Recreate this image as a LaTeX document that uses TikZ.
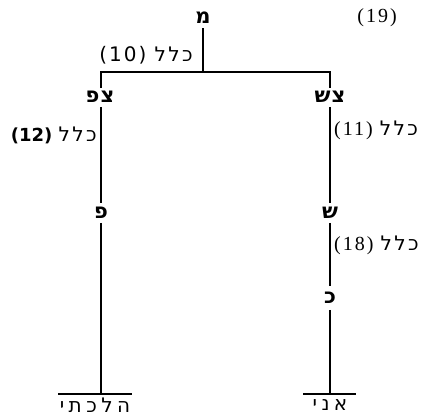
\documentclass[tikz,border=0pt]{standalone}
\usepackage{fontspec}
\setmainfont{Liberation Serif}
\newfontfamily\heb[Script=Hebrew,LetterSpace=12]{DejaVu Sans}
\newfontfamily\hebw[Script=Hebrew,LetterSpace=22]{DejaVu Sans}
\newfontfamily\hebb[Script=Hebrew,LetterSpace=6]{DejaVu Sans}
\newfontfamily\numsans[LetterSpace=10]{DejaVu Sans}
\newfontfamily\numbold{DejaVu Sans}
\newfontfamily\numserif[LetterSpace=10]{Liberation Serif}
\TeXXeTstate=1
\begin{document}
\begin{tikzpicture}[x=1pt,y=-1pt,
  letter/.style={inner sep=0pt,font=\hebb\fontsize{21}{23}\selectfont\bfseries},
  lbl/.style={inner sep=0pt,font=\fontsize{20}{22}\selectfont},
  ln/.style={line width=2pt}]
\useasboundingbox (0,0) rectangle (424,416);
\node[letter] (m) at (203,18) {\beginR מ\endR};
\node[letter] (zp) at (100,97) {\beginR צפ\endR};
\node[letter] (zs) at (330,97) {\beginR צש\endR};
\node[letter] (p) at (101,213) {\beginR פ\endR};
\node[letter] (s) at (330,213) {\beginR ש\endR};
\node[letter] (k) at (330,298) {\beginR כ\endR};
\node[lbl,font=\hebw\fontsize{20}{22}\selectfont] (hl) at (95,405) {\beginR הלכתי\endR};
\node[lbl,font=\hebw\fontsize{20}{22}\selectfont] (an) at (330,405) {\beginR אני\endR};
\coordinate (top) at (203,72);
\coordinate (tl) at (101,72);
\coordinate (tr) at (330,72);
\coordinate (bl1) at (58,394);
\coordinate (bl2) at (132,394);
\coordinate (br1) at (303,394);
\coordinate (br2) at (356,394);
\coordinate (bl) at (101,394);
\coordinate (br) at (330,394);
\draw[ln] ([yshift=-4pt]m.south) -- (top);
\draw[ln] ([yshift=3pt]zp.north -| tl) -- (tl) -- (tr) -- ([yshift=3pt]zs.north -| tr);
\draw[ln] ([yshift=-4pt]zp.south -| tl) -- ([yshift=4pt]p.north -| tl);
\draw[ln] ([yshift=-4pt]p.south -| tl) -- (bl);
\draw[ln] ([yshift=-4pt]zs.south -| tr) -- ([yshift=4pt]s.north -| tr);
\draw[ln] ([yshift=-4pt]s.south -| tr) -- ([yshift=6pt]k.north -| tr);
\draw[ln] ([yshift=-6pt]k.south -| tr) -- (br);
\draw[ln] (bl1) -- (bl2);
\draw[ln] (br1) -- (br2);
\node[lbl,anchor=east] (l10) at (193,55) {\numsans (10) \heb\beginR כלל\endR};
\node[lbl,anchor=east] (l12) at (97,135) {\numbold\fontsize{18}{20}\selectfont\bfseries (12)\mdseries\fontsize{20}{22}\selectfont\ \heb\beginR כלל\endR};
\node[lbl,anchor=west] (l11) at (334,130) {\numserif (11) \heb\beginR כלל\endR};
\node[lbl,anchor=west] (l18) at (334,245) {\numserif (18) \heb\beginR כלל\endR};
\node[lbl] (l19) at (377,18) {\numserif (19)};
\end{tikzpicture}
\end{document}
